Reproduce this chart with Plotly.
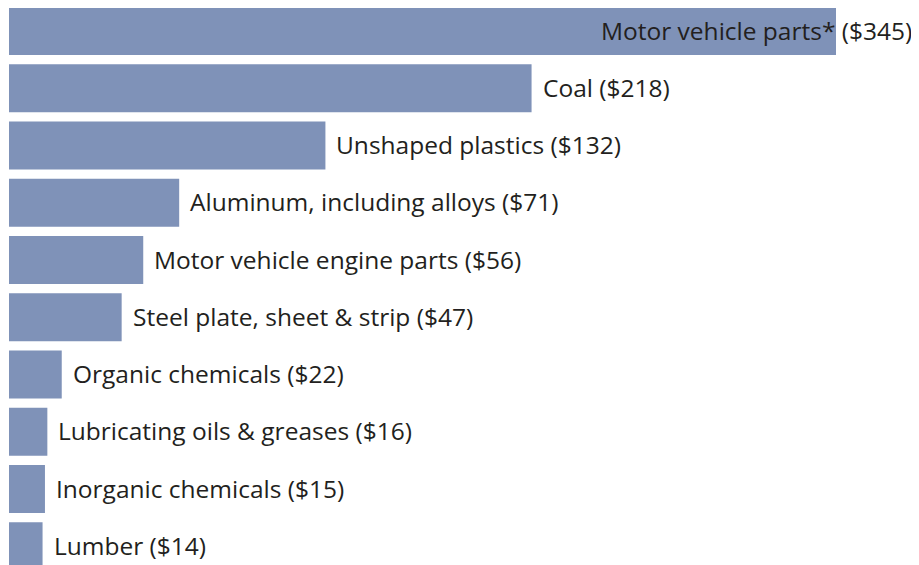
import plotly.graph_objects as go

categories = ["Motor vehicle parts*", "Coal", "Unshaped plastics", "Aluminum, including alloys",
              "Motor vehicle engine parts", "Steel plate, sheet & strip", "Organic chemicals",
              "Lubricating oils & greases", "Inorganic chemicals", "Lumber"]
values = [345, 218, 132, 71, 56, 47, 22, 16, 15, 14]

# page has an 8px body margin; the figure is sized to fill the rest of the window
W, H = 911, 557
px_per_unit = 827 / 345.0
x0_px = 1
pitch = 57.25
c0 = 23.0

xr = [-x0_px / px_per_unit, (W - x0_px) / px_per_unit]
yr = [(H - c0) / pitch, -c0 / pitch]

idx = list(range(len(categories)))
fig = go.Figure()
fig.add_trace(go.Bar(x=values, y=idx, orientation="h", width=48 / pitch,
                     marker=dict(color="#7f92b8", line=dict(width=0)), hoverinfo="skip"))

font = dict(family="Open Sans", size=24.5, color="#231f20")
for i, (c, v) in enumerate(zip(categories, values)):
    label = f"{c} (${v})"
    if i == 0:
        fig.add_annotation(x=xr[1], y=i, text=label, showarrow=False, xanchor="right",
                           xshift=-5, yshift=1, font=font)
    else:
        fig.add_annotation(x=v, y=i, text=label, showarrow=False, xanchor="left",
                           xshift=9, yshift=1, font=font)

fig.update_layout(width=W, height=H, margin=dict(l=0, r=0, t=0, b=0),
                  paper_bgcolor="white", plot_bgcolor="white", showlegend=False,
                  xaxis=dict(range=xr, visible=False, fixedrange=True),
                  yaxis=dict(range=yr, visible=False, fixedrange=True))
fig.write_html("out.html")
